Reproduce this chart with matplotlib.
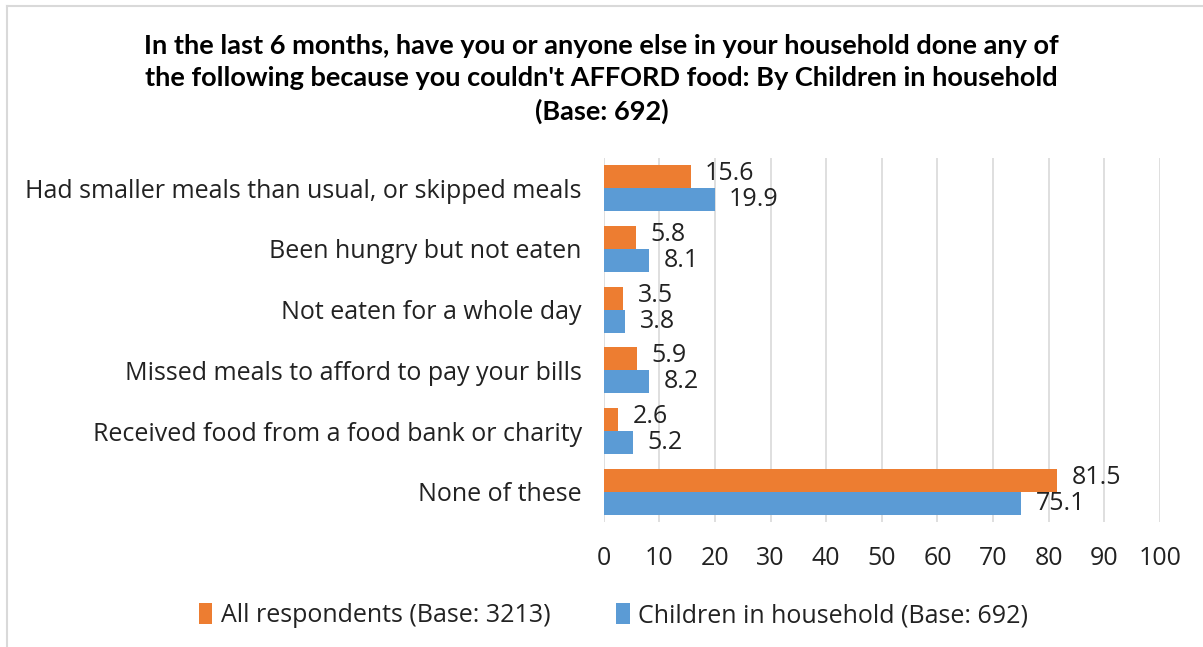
import numpy as np
import matplotlib
matplotlib.use("Agg")
import matplotlib.pyplot as plt
from matplotlib.lines import Line2D

categories = [
    "Had smaller meals than usual, or skipped meals",
    "Been hungry but not eaten",
    "Not eaten for a whole day",
    "Missed meals to afford to pay your bills",
    "Received food from a food bank or charity",
    "None of these",
]
all_resp = [15.6, 5.8, 3.5, 5.9, 2.6, 81.5]
children = [19.9, 8.1, 3.8, 8.2, 5.2, 75.1]
series_names = ["All respondents (Base: 3213)", "Children in household (Base: 692)"]
title = ("In the last 6 months, have you or anyone else in your household done any of\n"
         "the following because you couldn't AFFORD food: By Children in household\n"
         "(Base: 692)")

plt.rcParams["font.family"] = ["Open Sans", "DejaVu Sans"]

orange = "#ED7D31"
blue = "#5B9BD5"
fs = 18

fig = plt.figure(figsize=(12.03, 6.47), dpi=100)
ax = fig.add_axes([0.502, 0.193, 0.462, 0.563])

y = np.arange(len(categories))
h = 0.38
ax.barh(y - h / 2, all_resp, height=h, color=orange, label=series_names[0])
ax.barh(y + h / 2, children, height=h, color=blue, label=series_names[1])

for yi, v in zip(y, all_resp):
    ax.text(v + 2.6, yi - h / 2 - 0.05, f"{v:.1f}", va="center", ha="left", fontsize=fs, color="#222222")
for yi, v in zip(y, children):
    ax.text(v + 2.6, yi + h / 2 + 0.0, f"{v:.1f}", va="center", ha="left", fontsize=fs, color="#222222")

ax.set_xlim(0, 100)
ax.set_ylim(len(categories) - 0.5, -0.5)
ax.set_xticks(range(0, 101, 10))
ax.set_yticks(y)
ax.set_yticklabels(categories)
ax.tick_params(axis="both", length=0, labelsize=fs, labelcolor="#222222")
ax.tick_params(axis="x", pad=17)
ax.tick_params(axis="y", pad=16)
ax.xaxis.grid(True, color="#D9D9D9", linewidth=1.2)
ax.set_axisbelow(True)
for s in ax.spines.values():
    s.set_visible(False)

fig.suptitle(title, y=0.948, fontsize=19.5, fontweight="bold", linespacing=1.42,
             family=["Lato", "DejaVu Sans"])

handles, labels = ax.get_legend_handles_labels()
fig.legend(handles, labels, loc="center", bbox_to_anchor=(0.51, 0.048), ncol=2, frameon=False,
           fontsize=fs, handlelength=0.55, handleheight=0.9, handletextpad=0.35, columnspacing=2.6,
           labelcolor="#222222")

fig.add_artist(Line2D([0.006, 0.006], [0, 0.99], transform=fig.transFigure, color="#D9D9D9", linewidth=1.5))
fig.add_artist(Line2D([0.006, 1.0], [0.99, 0.99], transform=fig.transFigure, color="#D9D9D9", linewidth=1.5))

fig.savefig("out.png", dpi=100)
